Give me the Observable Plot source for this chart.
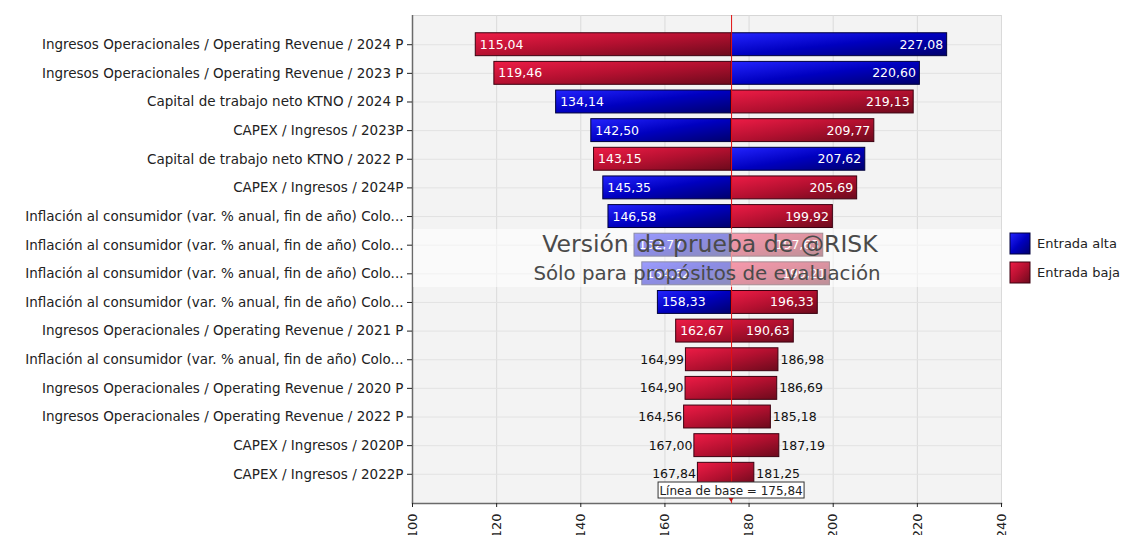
<!DOCTYPE html>
<html>
<head>
<meta charset="utf-8">
<script src="https://cdn.jsdelivr.net/npm/d3@7"></script>
<script src="https://cdn.jsdelivr.net/npm/@observablehq/plot@0.6"></script>
<style>
  html, body { margin: 0; padding: 0; background: #fff; }
  #chart { width: 1126px; height: 535px; overflow: hidden; }
</style>
</head>
<body>
<div id="chart"></div>
<script>
// ---- Data ----
const labels = [
  "Ingresos Operacionales / Operating Revenue / 2024 P",
  "Ingresos Operacionales / Operating Revenue / 2023 P",
  "Capital de trabajo neto KTNO / 2024 P",
  "CAPEX / Ingresos / 2023P",
  "Capital de trabajo neto KTNO / 2022 P",
  "CAPEX / Ingresos / 2024P",
  "Inflación al consumidor (var. % anual, fin de año) Colo...",
  "Inflación al consumidor (var. % anual, fin de año) Colo...",
  "Inflación al consumidor (var. % anual, fin de año) Colo...",
  "Inflación al consumidor (var. % anual, fin de año) Colo...",
  "Ingresos Operacionales / Operating Revenue / 2021 P",
  "Inflación al consumidor (var. % anual, fin de año) Colo...",
  "Ingresos Operacionales / Operating Revenue / 2020 P",
  "Ingresos Operacionales / Operating Revenue / 2022 P",
  "CAPEX / Ingresos / 2020P",
  "CAPEX / Ingresos / 2022P"
];
const lowValues  = [115.04, 119.46, 134.14, 142.50, 143.15, 145.35, 146.58, 152.77, 154.62, 158.33, 162.67, 164.99, 164.90, 164.56, 167.00, 167.84];
const highValues = [227.08, 220.60, 219.13, 209.77, 207.62, 205.69, 199.92, 197.63, 199.21, 196.33, 190.63, 186.98, 186.69, 185.18, 187.19, 181.25];
const lowInput  = ["Entrada baja","Entrada baja","Entrada alta","Entrada alta","Entrada baja","Entrada alta","Entrada alta","Entrada alta","Entrada alta","Entrada alta","Entrada baja","Entrada baja","Entrada baja","Entrada baja","Entrada baja","Entrada baja"];
const highInput = ["Entrada alta","Entrada alta","Entrada baja","Entrada baja","Entrada alta","Entrada baja","Entrada baja","Entrada baja","Entrada baja","Entrada baja","Entrada baja","Entrada baja","Entrada baja","Entrada baja","Entrada baja","Entrada baja"];
const baseline = 175.84;
const xTicks = [100, 120, 140, 160, 180, 200, 220, 240];
const legendKeys = ["Entrada alta", "Entrada baja"];
const watermark = ["Versión de prueba de @RISK", "Sólo para propósitos de evaluación"];

// ---- Derived tables ----
const rows = d3.range(labels.length);
const segments = [];
rows.forEach(i => {
  if (lowInput[i] === highInput[i]) {
    segments.push({i, x1: lowValues[i], x2: highValues[i], input: lowInput[i]});
  } else {
    segments.push({i, x1: lowValues[i], x2: baseline, input: lowInput[i]});
    segments.push({i, x1: baseline, x2: highValues[i], input: highInput[i]});
  }
});
const fmt = v => d3.format(".2f")(v).replace(".", ",");
const valueLabels = rows.map(i => ({i, lo: lowValues[i], hi: highValues[i], inside: (highValues[i] - lowValues[i]) > 25}));
const inside = valueLabels.filter(d => d.inside);
const outside = valueLabels.filter(d => !d.inside);

const gradId = {"Entrada alta": "gradAlta", "Entrada baja": "gradBaja"};
const strokeOf = {"Entrada alta": "#00003c", "Entrada baja": "#3c0010"};

const chart = Plot.plot({
  width: 1126,
  height: 535,
  marginLeft: 412,
  marginRight: 125,
  marginTop: 15,
  marginBottom: 32,
  style: {fontFamily: "'DejaVu Sans', Verdana, sans-serif", fontSize: "13px", background: "white", color: "#222", overflow: "visible"},
  x: {domain: [100, 240], label: null},
  y: {domain: rows, paddingInner: 0.2, paddingOuter: 0.62, round: false, label: null},
  marks: [
    Plot.frame({fill: "#f3f3f3", stroke: "#d6d6d6"}),
    Plot.gridX(xTicks, {stroke: "#dadada", strokeOpacity: 1}),
    Plot.gridY(rows, {stroke: "#e2e2e2", strokeOpacity: 1}),
    ...legendKeys.map(k => Plot.barX(segments.filter(d => d.input === k), {
      x1: "x1", x2: "x2", y: "i", fill: `url(#${gradId[k]})`, stroke: strokeOf[k], strokeWidth: 1
    })),
    Plot.ruleX([baseline], {stroke: "#e01010", strokeWidth: 1}),
    Plot.text(inside, {x: "lo", y: "i", text: d => fmt(d.lo), textAnchor: "start", dx: 4, fill: "white", fontSize: 12.5}),
    Plot.text(inside, {x: "hi", y: "i", text: d => fmt(d.hi), textAnchor: "end", dx: -4, fill: "white", fontSize: 12.5}),
    Plot.text(outside, {x: "lo", y: "i", text: d => fmt(d.lo), textAnchor: "end", dx: -2, fill: "#111", fontSize: 12.5}),
    Plot.text(outside, {x: "hi", y: "i", text: d => fmt(d.hi), textAnchor: "start", dx: 2, fill: "#111", fontSize: 12.5}),
    Plot.ruleX([100], {stroke: "#6a6a6a", strokeWidth: 1.5}),
    Plot.frame({anchor: "bottom", stroke: "#6a6a6a", strokeWidth: 1.5}),
    Plot.axisY({tickFormat: i => labels[i], tickSize: 5, tickPadding: 4, fontSize: 13.5, label: null}),
    Plot.axisX(xTicks, {tickRotate: -90, tickSize: 4, tickPadding: 6, fontSize: 13, tickFormat: d => String(d), label: null})
  ]
});
document.getElementById("chart").appendChild(chart);

// ---- gradients, baseline label, watermark, legend ----
const svg = d3.select(chart);
const defs = svg.insert("defs", ":first-child");
const gradStops = {
  gradAlta: ["#2424ff", "#0000c0", "#00006c"],
  gradBaja: ["#ee1c46", "#b41030", "#6c0a1c"]
};
Object.entries(gradStops).forEach(([id, cols]) => {
  const g = defs.append("linearGradient").attr("id", id)
    .attr("x1", 0).attr("y1", 0).attr("x2", 1).attr("y2", 1);
  cols.forEach((c, k) => g.append("stop").attr("offset", k / (cols.length - 1)).attr("stop-color", c));
});

const xs = chart.scale("x");
const bx = xs.apply(baseline);
const x0 = xs.apply(100), x1 = xs.apply(240);

// baseline label box
const bl = svg.append("g").attr("text-anchor", "middle");
bl.append("rect").attr("x", bx - 73).attr("y", 482).attr("width", 146).attr("height", 16)
  .attr("fill", "white").attr("stroke", "#333").attr("stroke-width", 1);
bl.append("text").attr("x", bx).attr("y", 494.5)
  .attr("font-size", 12).attr("fill", "#222").text("Línea de base = " + fmt(baseline));
bl.append("path").attr("d", `M${bx - 2.5},498 L${bx + 2.5},498 L${bx},502 Z`).attr("fill", "#c01010");

// watermark
const wm = svg.append("g").attr("text-anchor", "middle");
wm.append("rect").attr("x", x0 + 1).attr("y", 229).attr("width", x1 - x0 - 1).attr("height", 58)
  .attr("fill", "white").attr("fill-opacity", 0.55);
wm.append("text").attr("x", 710).attr("y", 252)
  .attr("font-size", 23.5).attr("fill", "#4a4a4a").text(watermark[0]);
wm.append("text").attr("x", 707).attr("y", 280)
  .attr("font-size", 19.8).attr("fill", "#4a4a4a").text(watermark[1]);

// legend
const lg = svg.append("g").attr("text-anchor", "start");
legendKeys.forEach((k, j) => {
  lg.append("rect").attr("x", 1010).attr("y", 233 + j * 29).attr("width", 20).attr("height", 21)
    .attr("fill", `url(#${gradId[k]})`).attr("stroke", strokeOf[k]);
  lg.append("text").attr("x", 1037).attr("y", 248 + j * 29).attr("font-size", 13).attr("fill", "#222").text(k);
});
</script>
</body>
</html>
